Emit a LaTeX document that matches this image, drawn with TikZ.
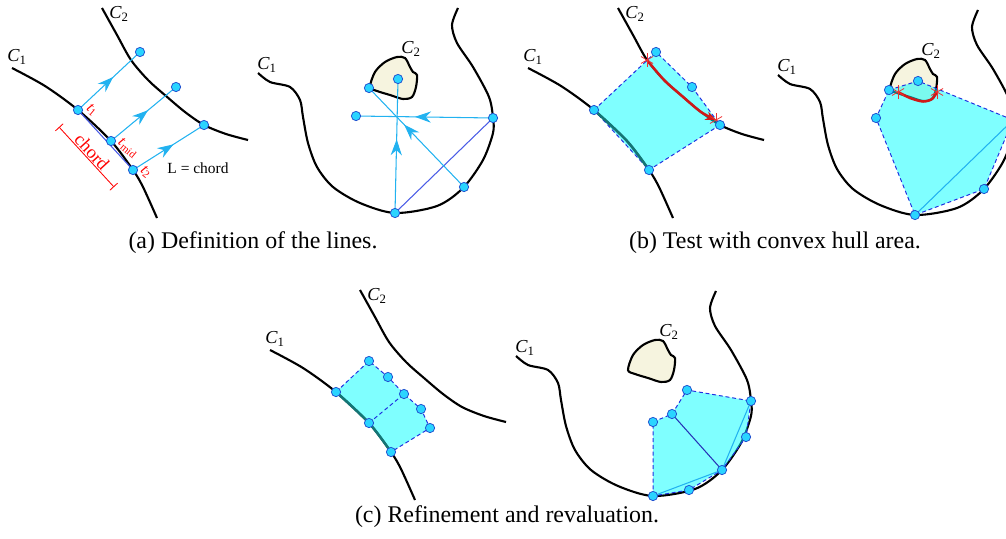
\documentclass[tikz,border=0pt]{standalone}
\usepackage{fontspec}
\setmainfont{Liberation Serif}
\usetikzlibrary{arrows.meta,decorations.markings}
\definecolor{ptfill}{HTML}{2AD4FF}
\definecolor{ptedge}{HTML}{2050D0}
\definecolor{rayblue}{HTML}{22B2F0}
\definecolor{chordblue}{HTML}{4A5CE6}
\definecolor{darkchord}{HTML}{2633B8}
\definecolor{hullcyan}{HTML}{00FFFF}
\definecolor{edgeblue}{HTML}{2030E0}
\definecolor{cream}{HTML}{F6F4DF}
\definecolor{arcred}{HTML}{D01818}
\definecolor{markred}{HTML}{F03030}
\definecolor{segteal}{HTML}{157575}
\tikzset{
  curveline/.style={draw=black,line width=1.5pt},
  blob/.style={draw=black,line width=1.5pt,fill=cream},
  ptnode/.style={circle,draw=ptedge,fill=ptfill,line width=0.55pt,inner sep=0pt,minimum size=6.6pt},
  rayline/.style={draw=rayblue,line width=0.75pt},
  chordline/.style={draw=chordblue,line width=0.75pt},
  midarrow/.style={postaction={decorate},decoration={markings,mark=at position #1 with {\arrow{Stealth[length=4mm,width=2.8mm]}}}},
  midarrow/.default=0.57,
  hullfill/.style={fill=hullcyan,fill opacity=0.5},
  hulledge/.style={draw=edgeblue,line width=0.7pt,dash pattern=on 2.8pt off 2pt},
  redarc/.style={draw=arcred,line width=1.8pt},
  tealseg/.style={draw=segteal,line width=1.8pt},
  hitline/.style={draw=markred,line width=0.55pt},
  dimline/.style={draw=red,line width=0.6pt,{Bar[width=2.6mm]}-{Bar[width=2.6mm]}},
  curvelab/.style={font=\fontsize{13}{15}\selectfont},
  ptlab/.style={font=\fontsize{11}{12}\selectfont,text=red,rotate=-40,inner sep=0pt},
  plain/.style={font=\fontsize{11}{13}\selectfont},
  captext/.style={font=\fontsize{17}{20}\selectfont}
}
\newcommand{\cname}[2]{\textit{#1}\textsubscript{#2}}

\begin{document}
\begin{tikzpicture}[x=0.025cm,y=-0.025cm]
\useasboundingbox (0,0) rectangle (1006,539);
\clip (0,0) rectangle (1006,539);

% two open curves: (a) left, (b) left, (c) left
\foreach \dx/\dy in {0/0,516/0,258/282}{
\begin{scope}[shift={(\dx,\dy)}]
\draw[curveline] plot[smooth] coordinates {(12,68) (45,86) (78,110) (111,141) (133,170) (143,187) (157,218)};
\draw[curveline] plot[smooth] coordinates {(102,8) (117,35) (131,60) (148,80) (166,96) (185,112) (204,125) (226,134) (248,140)};
\node[curvelab] at (17,57) {\cname{C}{1}};
\node[curvelab] at (119,14) {\cname{C}{2}};
\end{scope}}

% pocket curve and island: (a) right, (b) right, (c) right
\foreach \dx/\dy in {0/0,520/2,258/283}{
\begin{scope}[shift={(\dx,\dy)}]
\draw[curveline] plot[smooth] coordinates {(258,73) (270,82) (290,87) (300,100) (303,117) (308,143) (317,167) (333,187) (360,203) (395,213) (437,206) (463,188) (483,160) (493,133) (493,118) (489,97) (473,67) (457,43) (452,25) (458,8)};
\draw[blob] plot[smooth cycle] coordinates {(370,87) (375,72) (385,62) (397,57) (405,58) (410,67) (413,72) (417,75) (416,87) (412,97) (403,99) (390,95) (377,91)};
\node[curvelab] at (267,65) {\cname{C}{1}};
\node[curvelab] at (411,49) {\cname{C}{2}};
\end{scope}}

% (a) left: chord and parallel lines
\begin{scope}[name prefix=a-]
\coordinate (t1) at (78,110); \coordinate (tm) at (111,141); \coordinate (t2) at (133,170);
\coordinate (u1) at (140,52); \coordinate (u2) at (176,87); \coordinate (u3) at (204,125);
\coordinate (d1) at (59,127); \coordinate (d2) at (114,187);
\draw[chordline] (t1) -- (t2);
\draw[rayline,midarrow] (t1) -- (u1);
\draw[rayline,midarrow] (tm) -- (u2);
\draw[rayline,midarrow] (t2) -- (u3);
\draw[dimline] (d1) -- node[above,sloped,inner sep=0.5pt,text=red,font=\fontsize{13}{15}\selectfont] {chord} (d2);
\foreach \p in {t1,tm,t2,u1,u2,u3} \node[ptnode] at (\p) {};
\node[ptlab] at (92,110) {\cname{t}{1}};
\node[ptlab] at (128,148) {\cname{t}{mid}};
\node[ptlab] at (146,172) {\cname{t}{2}};
\node[plain] (lc) at (198,168) {L = chord};
\end{scope}

% (a) right: lines towards the island
\begin{scope}[name prefix=o-]
\coordinate (p0) at (398,79); \coordinate (p1) at (369,88); \coordinate (p2) at (356,116);
\coordinate (p3) at (493,118); \coordinate (p4) at (464,187); \coordinate (p5) at (395,213);
\draw[chordline] (p5) -- (p3);
\draw[rayline,midarrow=0.57] (p3) -- (p2);
\draw[rayline,midarrow=0.55] (p5) -- (p0);
\draw[rayline,midarrow=0.63] (p4) -- (p1);
\foreach \p in {p0,p1,p2,p3,p4,p5} \node[ptnode] at (\p) {};
\end{scope}

% (b) left: hull hits C2
\begin{scope}[shift={(516,0)},name prefix=b-]
\coordinate (t1) at (78,110); \coordinate (t2) at (133,170);
\coordinate (u1) at (140,52); \coordinate (u2) at (176,87); \coordinate (u3) at (204,125);
\coordinate (h1) at (131,60); \coordinate (h2) at (200,120);
\fill[hullfill] (t1) -- (u1) -- (u2) -- (u3) -- (t2) -- cycle;
\draw[hulledge] (t1) -- (u1) -- (u2) -- (u3) -- (t2) -- (t1);
\draw[tealseg] plot[smooth] coordinates {(78,110) (111,141) (133,170)};
\draw[redarc,-{Stealth[length=2.6mm,width=2.2mm]}] plot[smooth] coordinates {(131,60) (148,80) (166,96) (185,112) (200,120)};
\foreach \q in {h1,h2} \foreach \a in {90,30,-30} \draw[hitline] (\q) +(\a:7) -- +(\a+180:7);
\foreach \p in {t1,t2,u1,u2,u3} \node[ptnode] at (\p) {};
\end{scope}

% (b) right: hull hits the island
\begin{scope}[shift={(520,2)},name prefix=c-]
\coordinate (p0) at (398,79); \coordinate (p1) at (369,88); \coordinate (p2) at (356,116);
\coordinate (p3) at (493,118); \coordinate (p4) at (464,187); \coordinate (p5) at (395,213);
\coordinate (h1) at (378,90); \coordinate (h2) at (417,90);
\fill[hullfill] (p1) -- (p0) -- (p3) -- (p4) -- (p5) -- (p2) -- cycle;
\draw[hulledge] (p1) -- (p0) -- (p3) -- (p4) -- (p5) -- (p2) -- cycle;
\draw[rayline] (p5) -- (p3);
\draw[redarc] plot[smooth] coordinates {(378,90) (390,96) (403,99.5) (412,97) (417,90)};
\foreach \q in {h1,h2} \foreach \a in {90,30,-30} \draw[hitline] (\q) +(\a:7) -- +(\a+180:7);
\foreach \p in {p0,p1,p2,p3,p4,p5} \node[ptnode] at (\p) {};
\end{scope}

% (c) left: split into two quads
\begin{scope}[shift={(258,282)},name prefix=d-]
\coordinate (t1) at (78,110); \coordinate (tm) at (111,141); \coordinate (t2) at (133,170);
\coordinate (c1) at (111,79); \coordinate (c2) at (130,95); \coordinate (c3) at (146,112);
\coordinate (c4) at (163,127); \coordinate (c5) at (172,146);
\fill[hullfill] (t1) -- (c1) -- (c2) -- (c3) -- (c4) -- (c5) -- (t2) -- (tm) -- cycle;
\draw[hulledge] (t1) -- (c1) -- (c2) -- (c3) -- (c4) -- (c5) -- (t2);
\draw[hulledge] (tm) -- (c3);
\draw[tealseg] plot[smooth] coordinates {(78,110) (111,141) (133,170)};
\foreach \p in {t1,tm,t2,c1,c2,c3,c4,c5} \node[ptnode] at (\p) {};
\end{scope}

% (c) right: refined pieces
\begin{scope}[shift={(258,283)},name prefix=e-]
\coordinate (p3) at (493,118); \coordinate (p4) at (464,187); \coordinate (p5) at (395,213);
\coordinate (q1) at (429,107); \coordinate (q3) at (488,154); \coordinate (q5) at (431,207);
\coordinate (q7) at (395,139); \coordinate (q8) at (414,131);
\fill[hullfill] (p5) -- (q7) -- (q8) -- (q1) -- (p3) -- (q3) -- (p4) -- (q5) -- cycle;
\draw[hulledge] (p5) -- (q7) -- (q8) -- (q1) -- (p3) -- (q3) -- (p4) -- (q5) -- cycle;
\draw[draw=darkchord,line width=0.75pt] (q8) -- (p4);
\draw[rayline] (p5) -- (p4) -- (p3);
\foreach \p in {p3,p4,p5,q1,q3,q5,q7,q8} \node[ptnode] at (\p) {};
\end{scope}

% captions
\node[captext] (capa) at (253,243) {(a) Definition of the lines.};
\node[captext] (capb) at (775,243) {(b) Test with convex hull area.};
\node[captext] (capc) at (507,517) {(c) Refinement and revaluation.};
\end{tikzpicture}
\end{document}
